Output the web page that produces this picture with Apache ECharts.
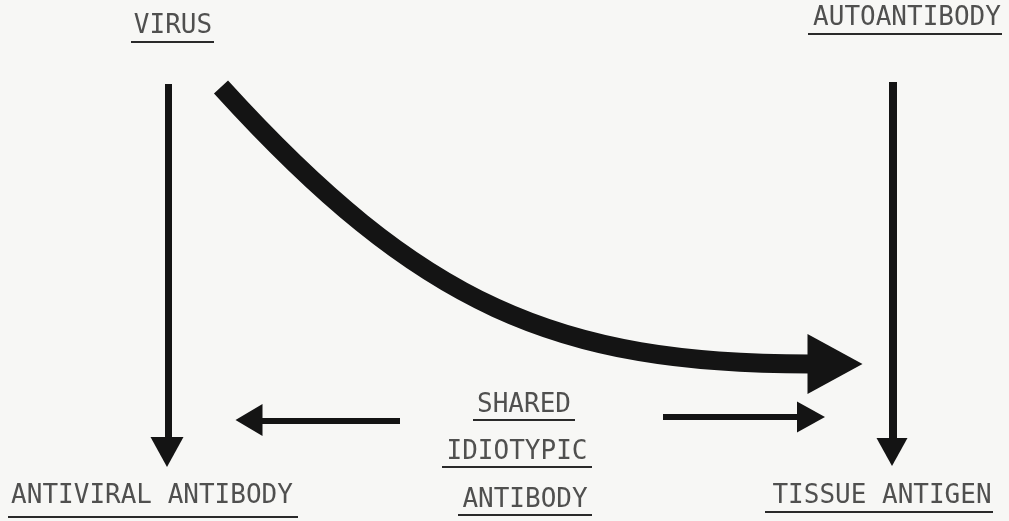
<!DOCTYPE html>
<html>
<head>
<meta charset="utf-8">
<script src="https://cdn.jsdelivr.net/npm/echarts@6/dist/echarts.min.js"></script>
<style>
html,body{margin:0;padding:0;background:#f7f7f5;}
#c{width:1009px;height:521px;}
</style>
</head>
<body>
<div id="c"></div>
<script>
// ---- data (diagram coordinates, y grows downward) ----
const labelNames = ['VIRUS', 'AUTOANTIBODY', 'ANTIVIRAL ANTIBODY', 'SHARED', 'IDIOTYPIC', 'ANTIBODY', 'TISSUE ANTIGEN'];
const labelX = [173, 907, 152, 524, 517, 525, 882];
const labelY = [26, 18, 496, 405, 452, 500, 496];
const underlineX1 = [131, 808, 8, 473, 442, 458, 765];
const underlineX2 = [214, 1002, 298, 575, 592, 592, 993];
const underlineY = [42, 34, 517, 420, 467, 515, 512];

const shaftFrom = [[168, 84], [893, 82], [400, 421], [663, 417]];
const shaftTo = [[168, 442], [893, 444], [255, 421], [800, 417]];

// curved arrow: start, two control points, end (cubic Bezier)
const curveStart = [221, 87];
const curveCtrl1 = [421, 307];
const curveCtrl2 = [558, 364];
const curveEnd = [810, 364];

const headX = [167, 892, 249, 811, 835];
const headY = [452, 452, 420, 417, 364];
const headRotate = [180, 180, 90, -90, -90];

// ---- styles ----
const INK = '#141414';
const headSizes = [[33, 30], [31, 28], [32, 27], [31, 28], [60, 55]];
const shaftWidths = [7, 8, 6, 6];

const chart = echarts.init(document.getElementById('c'));
chart.setOption({
  animation: false,
  backgroundColor: '#f7f7f5',
  grid: { left: 0, right: 0, top: 0, bottom: 0 },
  xAxis: { type: 'value', min: 0, max: 1009, show: false },
  yAxis: { type: 'value', min: 0, max: 521, inverse: true, show: false },
  series: [
    {
      type: 'lines',
      coordinateSystem: 'cartesian2d',
      silent: true,
      data: shaftFrom.map((p, i) => ({
        coords: [p, shaftTo[i]],
        lineStyle: { width: shaftWidths[i] }
      })),
      lineStyle: { color: INK, opacity: 1, cap: 'butt' }
    },
    {
      type: 'lines',
      coordinateSystem: 'cartesian2d',
      silent: true,
      data: underlineX1.map((x1, i) => ({
        coords: [[x1, underlineY[i]], [underlineX2[i], underlineY[i]]]
      })),
      lineStyle: { color: '#2a2a2a', width: 2, opacity: 1 }
    },
    {
      type: 'custom',
      coordinateSystem: 'cartesian2d',
      silent: true,
      clip: false,
      data: [[...curveStart, ...curveCtrl1, ...curveCtrl2, ...curveEnd]],
      encode: { x: [0, 2, 4, 6], y: [1, 3, 5, 7] },
      renderItem: function (params, api) {
        const p0 = api.coord([api.value(0), api.value(1)]);
        const p1 = api.coord([api.value(2), api.value(3)]);
        const p2 = api.coord([api.value(4), api.value(5)]);
        const p3 = api.coord([api.value(6), api.value(7)]);
        return {
          type: 'bezierCurve',
          shape: {
            x1: p0[0], y1: p0[1],
            cpx1: p1[0], cpy1: p1[1],
            cpx2: p2[0], cpy2: p2[1],
            x2: p3[0], y2: p3[1]
          },
          style: { stroke: INK, fill: null, lineWidth: 19, lineCap: 'butt' }
        };
      }
    },
    {
      type: 'scatter',
      silent: true,
      symbol: 'triangle',
      data: headX.map((x, i) => ({
        value: [x, headY[i]],
        symbolRotate: headRotate[i],
        symbolSize: headSizes[i]
      })),
      itemStyle: { color: INK, opacity: 1 }
    },
    {
      type: 'scatter',
      silent: true,
      symbolSize: 0,
      data: labelNames.map((n, i) => ({ name: n, value: [labelX[i], labelY[i]] })),
      label: {
        show: true,
        position: 'inside',
        formatter: p => p.name,
        fontFamily: 'DejaVu Sans Mono',
        fontSize: 26,
        color: '#262626'
      }
    }
  ]
});
</script>
</body>
</html>
